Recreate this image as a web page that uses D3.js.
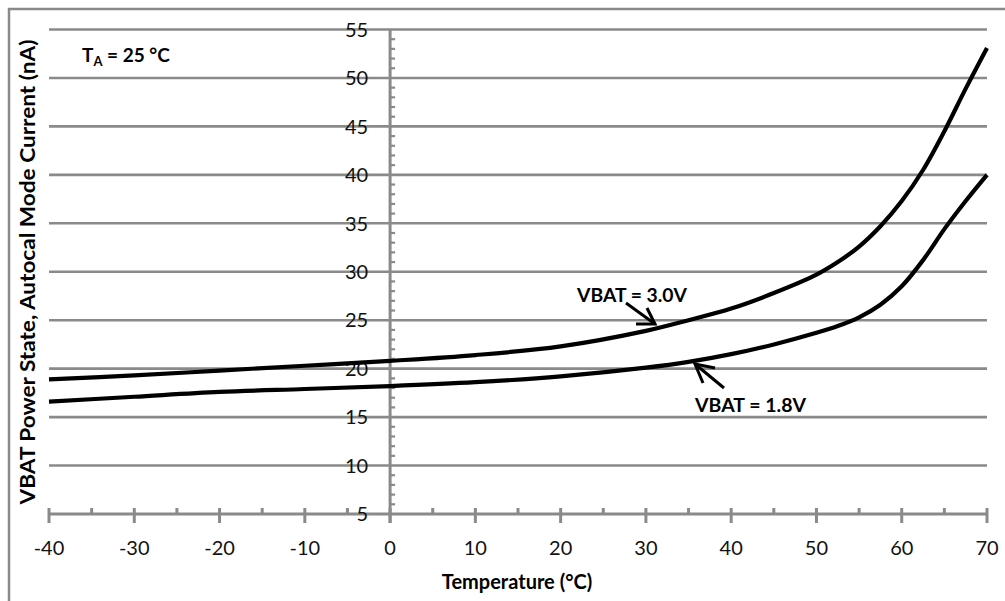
<!DOCTYPE html>
<meta charset="utf-8">
<script src="https://d3js.org/d3.v7.min.js"></script>
<style>
  body { margin: 0; background: #fff; }
  text { font-family: Lato, "Liberation Sans", sans-serif; }
</style>
<div id="chart"></div>
<script>

// curve data
var temp30 = [-40, -30, -20, -10, 0, 10, 20, 30, 35, 40, 45, 50, 52.5, 55, 57.5, 60, 62.5, 65, 67.5, 70];
var curr30 = [18.9, 19.3, 19.8, 20.3, 20.8, 21.4, 22.3, 23.9, 25.0, 26.2, 27.8, 29.7, 31.0, 32.6, 34.7, 37.3, 40.5, 44.5, 48.9, 53.1];

var temp18 = [-40, -30, -20, -10, 0, 10, 20, 30, 35, 40, 45, 50, 52.5, 55, 57.5, 60, 62.5, 65, 67.5, 70];
var curr18 = [16.6, 17.1, 17.6, 17.9, 18.2, 18.6, 19.2, 20.1, 20.7, 21.5, 22.5, 23.7, 24.4, 25.3, 26.6, 28.5, 31.2, 34.4, 37.3, 40.0];

var xTicks = [-40, -30, -20, -10, 0, 10, 20, 30, 40, 50, 60, 70];
var yTicks = [5, 10, 15, 20, 25, 30, 35, 40, 45, 50, 55];

var width = 1005, height = 601;
var grey = "#8a8a8a";

var svg = d3.select("#chart")
  .append("svg")
    .attr("width", width)
    .attr("height", height);

// outer frame (runs off the right and bottom edge)
svg.append("rect")
  .attr("x", 9).attr("y", 9)
  .attr("width", 1010).attr("height", 610)
  .attr("fill", "none")
  .attr("stroke", grey)
  .attr("stroke-width", 2.5);

var x = d3.scaleLinear().domain([-40, 70]).range([49, 987]);
var y = d3.scaleLinear().domain([5, 55]).range([514, 29.5]);

// horizontal gridlines
svg.append("g")
  .selectAll("line")
  .data(yTicks.filter(function(d) { return d > 5; }))
  .enter().append("line")
    .attr("x1", x(-40)).attr("x2", x(70))
    .attr("y1", function(d) { return y(d); })
    .attr("y2", function(d) { return y(d); })
    .attr("stroke", grey)
    .attr("stroke-width", 2.6);

// x axis at y = 5
var xAxis = svg.append("g").attr("transform", "translate(0," + y(5) + ")");
xAxis.append("line")
  .attr("x1", x(-40)).attr("x2", x(70))
  .attr("stroke", grey).attr("stroke-width", 3);
xAxis.selectAll(".major")
  .data(xTicks)
  .enter().append("line")
    .attr("x1", function(d) { return x(d); })
    .attr("x2", function(d) { return x(d); })
    .attr("y1", -6).attr("y2", 9)
    .attr("stroke", grey).attr("stroke-width", 3);
xAxis.selectAll(".minor")
  .data(d3.range(-35, 70, 10))
  .enter().append("line")
    .attr("x1", function(d) { return x(d); })
    .attr("x2", function(d) { return x(d); })
    .attr("y1", -6).attr("y2", 0)
    .attr("stroke", grey).attr("stroke-width", 3);
xAxis.selectAll("text")
  .data(xTicks)
  .enter().append("text")
    .attr("x", function(d) { return x(d); })
    .attr("y", 41)
    .attr("text-anchor", "middle")
    .attr("font-size", 20)
    .attr("fill", "#111")
    .text(function(d) { return d; });

// y axis at x = 0
var yAxis = svg.append("g").attr("transform", "translate(" + x(0) + ",0)");
yAxis.append("line")
  .attr("y1", y(55)).attr("y2", y(5) + 9)
  .attr("stroke", grey).attr("stroke-width", 3);
yAxis.selectAll(".minor")
  .data(d3.range(6, 55, 1).filter(function(d) { return d % 5 !== 0; }))
  .enter().append("line")
    .attr("x1", 0).attr("x2", 5)
    .attr("y1", function(d) { return y(d); })
    .attr("y2", function(d) { return y(d); })
    .attr("stroke", grey).attr("stroke-width", 2.2);
yAxis.selectAll("text")
  .data(yTicks)
  .enter().append("text")
    .attr("x", -22)
    .attr("y", function(d) { return y(d); })
    .attr("dy", "0.36em")
    .attr("text-anchor", "end")
    .attr("font-size", 20)
    .attr("fill", "#111")
    .text(function(d) { return d; });

// curves
var line = d3.line()
  .x(function(d) { return x(d[0]); })
  .y(function(d) { return y(d[1]); })
  .curve(d3.curveCatmullRom.alpha(0.5));

[[temp30, curr30], [temp18, curr18]].forEach(function(s) {
  svg.append("path")
    .datum(d3.zip(s[0], s[1]))
    .attr("d", line)
    .attr("fill", "none")
    .attr("stroke", "#000")
    .attr("stroke-width", 4.2)
    .attr("stroke-linejoin", "round");
});

// annotations with open arrows
function arrow(x1, y1, x2, y2, h1, h2) {
  var g = svg.append("g")
    .attr("stroke", "#000")
    .attr("stroke-width", 3)
    .attr("fill", "none");
  g.append("line").attr("x1", x1).attr("y1", y1).attr("x2", x2).attr("y2", y2);
  g.append("polyline").attr("points", [h1, [x2, y2], h2].map(function(p) { return p.join(","); }).join(" "));
}
arrow(626, 303, 655, 324, [636, 324], [647, 308]);
arrow(724, 388, 695, 364, [715, 368], [703, 383]);

svg.append("text")
  .attr("x", 577).attr("y", 302)
  .attr("font-size", 19).attr("font-weight", "bold")
  .attr("textLength", 110).attr("lengthAdjust", "spacingAndGlyphs")
  .text("VBAT = 3.0V");
svg.append("text")
  .attr("x", 695).attr("y", 412)
  .attr("font-size", 19).attr("font-weight", "bold")
  .attr("textLength", 111).attr("lengthAdjust", "spacingAndGlyphs")
  .text("VBAT = 1.8V");

// T_A label
var ta = svg.append("text")
  .attr("x", 82).attr("y", 62)
  .attr("font-size", 19).attr("font-weight", "bold");
ta.append("tspan").text("T");
ta.append("tspan").attr("font-size", 13).attr("dy", 4).text("A");
ta.append("tspan").attr("dy", -4).text(" = 25 °C");

// axis titles
svg.append("text")
  .attr("x", 517).attr("y", 589)
  .attr("text-anchor", "middle")
  .attr("font-size", 20).attr("font-weight", "bold")
  .text("Temperature (°C)");

svg.append("text")
  .attr("transform", "translate(35,272) rotate(-90)")
  .attr("text-anchor", "middle")
  .attr("font-size", 20).attr("font-weight", "bold")
  .attr("textLength", 465)
  .attr("lengthAdjust", "spacingAndGlyphs")
  .text("VBAT Power State, Autocal Mode Current  (nA)");

</script>
